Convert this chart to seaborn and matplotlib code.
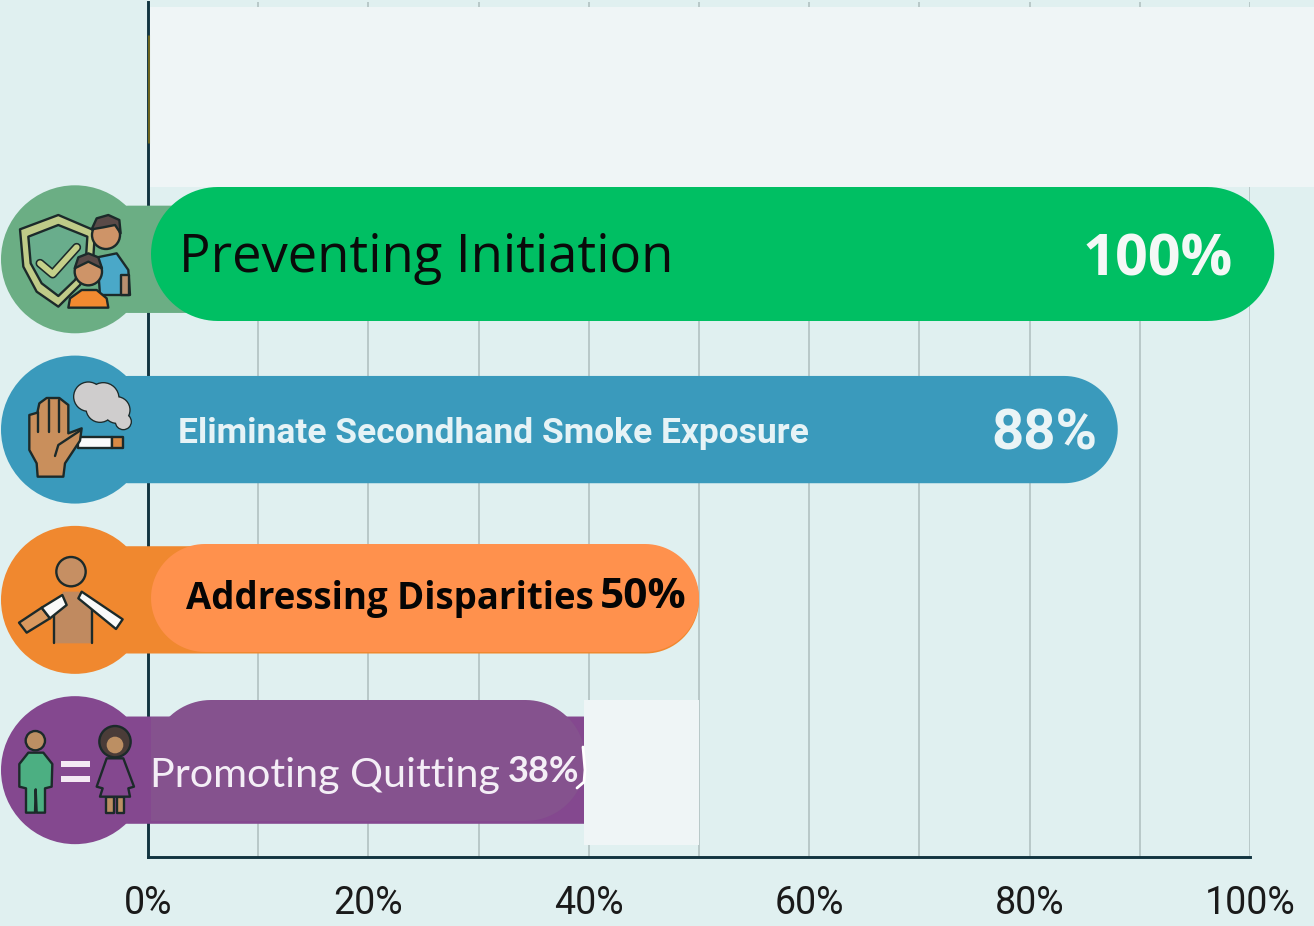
import matplotlib
matplotlib.use("Agg")
import matplotlib.pyplot as plt
import numpy as np
import pandas as pd
import seaborn as sns
from matplotlib.patches import Circle, Polygon, Rectangle
from matplotlib.transforms import Affine2D

# data
categories = ["", "Preventing Initiation", "Eliminate Secondhand Smoke Exposure",
              "Addressing Disparities", "Promoting Quitting"]
bar_end = [0, 100, 88, 50, 50]
cover_end = [None, 102.2, None, 50, 39.7]
value_labels = ["", "100%", "88%", "50%", "38%"]
bar_colors = ["#6B6420", "#6BAE84", "#3A9ABC", "#F0882F", "#84488F"]
cover_colors = [None, "#00BF63", None, "#FF914D", "#85528E"]
tick_values = list(range(0, 101, 10))
tick_labels = ["0%", "", "20%", "", "40%", "", "60%", "", "80%", "", "100%"]

BG = "#E0F0F0"
PANEL = "#EFF5F6"
DARK = "#123440"
OUT = "#1C2A2A"

sns.set_theme(style="whitegrid")
fig = plt.figure(figsize=(13.14, 9.26), dpi=100, facecolor=BG)
ax = fig.add_axes([148 / 1314, 1 - 857 / 926, 1102 / 1314, 855 / 926])
ax.set_facecolor("none")

df = pd.DataFrame({"category": categories, "value": bar_end})
sns.barplot(data=df, x="value", y="category", hue="category", palette=bar_colors,
            width=0.63, legend=False, ax=ax, saturation=1)
ax.set_xlim(0, 100)
ax.set_ylim(4.51, -0.511)
ax.set_xlabel("")
ax.set_ylabel("")
ax.set_yticks([])
ax.set_xticks(tick_values)
ax.set_xticklabels(tick_labels, family="Roboto", fontsize=27, color="#1A1A1A")
ax.tick_params(axis="x", length=0, pad=20)
ax.set_axisbelow(True)
ax.grid(axis="x", color="#B0C0C0", linewidth=1.15)
ax.grid(axis="y", visible=False)
for side in ["top", "right"]:
    ax.spines[side].set_visible(False)
for side in ["left", "bottom"]:
    ax.spines[side].set_color(DARK)
    ax.spines[side].set_linewidth(2.1)
    ax.spines[side].set_zorder(1.7)

# reference pixels, y going down
px = Affine2D().scale(1 / 1314, -1 / 926).translate(0, 1) + fig.transFigure
to_px = ax.transData + px.inverted()


def pill(x0, y0, x1, y1, radius, color, z):
    a = np.linspace(0, np.pi / 2, 24)
    pts = np.concatenate([
        np.c_[x1 - radius + radius * np.cos(a), y1 - radius + radius * np.sin(a)],
        np.c_[x0 + radius - radius * np.sin(a), y1 - radius + radius * np.cos(a)],
        np.c_[x0 + radius - radius * np.cos(a), y0 + radius - radius * np.sin(a)],
        np.c_[x1 - radius + radius * np.sin(a), y0 + radius - radius * np.cos(a)],
    ])
    ax.add_patch(Polygon(pts, closed=True, fc=color, ec="none", transform=px,
                         clip_on=False, zorder=z))


def label(x, y, s, size, color, weight="normal", family="Open Sans"):
    ax.text(x, y, s, transform=px, fontsize=size, color=color, fontweight=weight,
            family=family, va="center", ha="left", clip_on=False, zorder=8)


# panel behind the empty top row
ax.add_patch(Rectangle((150, 7), 1164, 180, fc=PANEL, ec="none", transform=px,
                       clip_on=False, zorder=1.6))

# base bars become pills, starting under the icon circles
bar_patches = list(ax.patches)[:len(categories)]
for p, color in zip(bar_patches, bar_colors):
    if p.get_width() == 0:
        p.set_edgecolor(color)
        p.set_linewidth(2.2)
        p.set_zorder(2)
        continue
    p.set_visible(False)
    (xa, ya), (xb, yb) = to_px.transform([(p.get_x(), p.get_y()),
                                          (p.get_x() + p.get_width(), p.get_y() + p.get_height())])
    cy = (ya + yb) / 2
    pill(75, ya, xb, yb, (yb - ya) / 2, color, 3)
    ax.add_patch(Circle((75, cy), 74, fc=color, ec="none", transform=px, clip_on=False, zorder=3))

# lighter pills laid over the bars
cover_rows = {1: (187, 321, 67), 3: (544, 652, 54), 4: (700, 821, 60)}
for row, (top, bottom, radius) in cover_rows.items():
    x_end = to_px.transform((cover_end[row], row))[0]
    pill(151, top, x_end, bottom, radius, cover_colors[row], 4)
# purple cover has a straight left side below the bar's top edge
ax.add_patch(Rectangle((151, 717), 150, 104, fc=cover_colors[4], ec="none", transform=px,
                       clip_on=False, zorder=4))

# patch hiding the end of the purple bar
x40 = to_px.transform((39.7, 4))[0]
x50 = to_px.transform((50, 4))[0]
ax.add_patch(Rectangle((x40 - 1, 700), x50 - x40 + 1, 145, fc=PANEL, ec="none",
                       transform=px, clip_on=False, zorder=5))
ax.plot([583, 585, 584, 577], [747, 770, 782, 788], color="white", lw=2, transform=px,
        clip_on=False, zorder=6)

# texts
label(179, 258, categories[1], 37.9, "#0A0A0A")
label(1083, 261, value_labels[1], 41.4, "#F4F8F6", "bold")
label(178, 433, categories[2], 25.5, "#E6F3F6", "bold", "Roboto")
label(991, 434, value_labels[2], 40.5, "#EAF4F6", "bold", "Roboto")
label(186, 599, categories[3], 26.4, "#050505", "bold")
label(600, 598, value_labels[3], 30.5, "#050505", "bold")
label(150, 776, categories[4], 29.7, "#F4EEF6", "normal", "Lato")
label(508, 771, value_labels[4], 26, "#F4EEF6", "bold", "Lato")

# icons, drawn in coordinates of 3x crops
t1 = Affine2D().scale(1 / 3).translate(0, 170) + px
t2 = Affine2D().scale(1 / 3).translate(0, 510) + px


def poly(pts, fc, t, ec=OUT, lw=1.7, z=6):
    ax.add_patch(Polygon(pts, closed=True, fc=fc, ec=ec, lw=lw, transform=t,
                         clip_on=False, zorder=z, joinstyle="round"))


def circ(x, y, r, fc, t, ec=OUT, lw=1.7, z=6):
    ax.add_patch(Circle((x, y), r, fc=fc, ec=ec, lw=lw, transform=t, clip_on=False, zorder=z))


def line(pts, color, t, lw=1.7, z=6):
    xs, ys = zip(*pts)
    ax.plot(xs, ys, color=color, lw=lw, transform=t, clip_on=False, zorder=z,
            solid_capstyle="round", solid_joinstyle="round")


# shield and two people
poly([(60, 178), (175, 135), (285, 182), (280, 262), (240, 345), (175, 410), (110, 365), (70, 290)],
     "#BFCB88", t1)
poly([(85, 200), (175, 165), (262, 200), (258, 262), (225, 330), (175, 378), (125, 340), (92, 280)],
     "#69AD8C", t1)
line([(120, 280), (158, 312), (230, 232)], OUT, t1, lw=6.5)
line([(120, 280), (158, 312), (230, 232)], "#C5D08A", t1, lw=4.2)
poly([(292, 262), (350, 250), (385, 300), (390, 375), (300, 375)], "#4AA8C8", t1, z=6)
poly([(362, 315), (388, 315), (388, 375), (362, 375)], "#B9906F", t1, z=6.1)
circ(318, 195, 42, "#CE9468", t1, z=6.2)
poly([(275, 178), (290, 145), (325, 135), (358, 150), (362, 190), (345, 165), (310, 172)],
     "#5A4A48", t1, z=6.3)
poly([(205, 413), (210, 385), (245, 360), (290, 360), (320, 385), (325, 413)], "#F28A30", t1, z=6.4)
circ(265, 305, 41, "#CE9468", t1, z=6.5)
poly([(224, 295), (235, 262), (265, 250), (295, 262), (306, 295), (265, 275)], "#5A4A48", t1, z=6.6)

# hand, cigarette and smoke
smoke = [(265, 680, 42), (310, 685, 45), (350, 720, 38), (300, 715, 40), (370, 755, 22)]
for x, y, r in smoke:
    circ(x, y, r + 4, OUT, t1, lw=0, z=6)
for x, y, r in smoke:
    circ(x, y, r, "#CFCDCD", t1, ec="none", lw=0, z=6.1)
poly([(235, 800), (335, 800), (335, 835), (235, 835)], "#FAFAFA", t1, z=6.2)
poly([(335, 800), (370, 800), (370, 835), (335, 835)], "#D98A45", t1, z=6.2)
poly([(88, 735), (112, 728), (118, 700), (140, 684), (178, 684), (205, 705), (205, 790), (245, 775),
      (240, 812), (195, 880), (190, 920), (113, 920), (110, 880), (88, 840)], "#C98F5C", t1, z=6.3)
line([(115, 725), (115, 785)], OUT, t1, z=6.4)
line([(147, 690), (147, 785)], OUT, t1, z=6.4)
line([(178, 690), (178, 785)], OUT, t1, z=6.4)
line([(165, 858), (175, 825), (240, 782)], OUT, t1, z=6.4)

# person with cigarettes on the shoulders
poly([(163, 400), (163, 290), (190, 245), (237, 245), (275, 290), (275, 400)], "#C08A60", t2, ec="none", lw=0)
line([(163, 400), (163, 290)], OUT, t2)
line([(275, 400), (275, 290)], OUT, t2)
circ(213, 185, 44, "#C68F63", t2, z=6.2)
poly([(57, 338), (125, 293), (150, 325), (80, 368)], "#D9995F", t2, z=6.2)
poly([(125, 293), (187, 255), (200, 285), (150, 325)], "#FAFAFA", t2, z=6.3)
poly([(235, 265), (245, 245), (368, 328), (348, 357)], "#FAFAFA", t2, z=6.3)

# man = woman
circ(106, 692, 29, "#BC8F63", t2)
poly([(58, 762), (85, 728), (130, 728), (157, 762), (155, 830), (135, 835), (135, 908), (110, 908),
      (107, 838), (105, 908), (78, 908), (78, 835), (58, 830)], "#4CAF82", t2)
poly([(183, 752), (270, 752), (270, 772), (183, 772)], "#F4EAF4", t2, ec="none", lw=0)
poly([(183, 797), (270, 797), (270, 817), (183, 817)], "#F4EAF4", t2, ec="none", lw=0)
circ(345, 695, 47, "#4A3C38", t2, z=6)
circ(345, 705, 25, "#BC8F63", t2, ec="none", lw=0, z=6.1)
poly([(318, 860), (342, 860), (342, 910), (318, 910)], "#BC8F63", t2, z=6.2)
poly([(350, 860), (372, 860), (372, 910), (350, 910)], "#BC8F63", t2, z=6.2)
poly([(320, 745), (370, 745), (402, 830), (385, 835), (390, 860), (300, 860), (308, 835), (290, 830)],
     "#84488F", t2, z=6.3)

fig.savefig("out.png", dpi=100, facecolor=BG)
